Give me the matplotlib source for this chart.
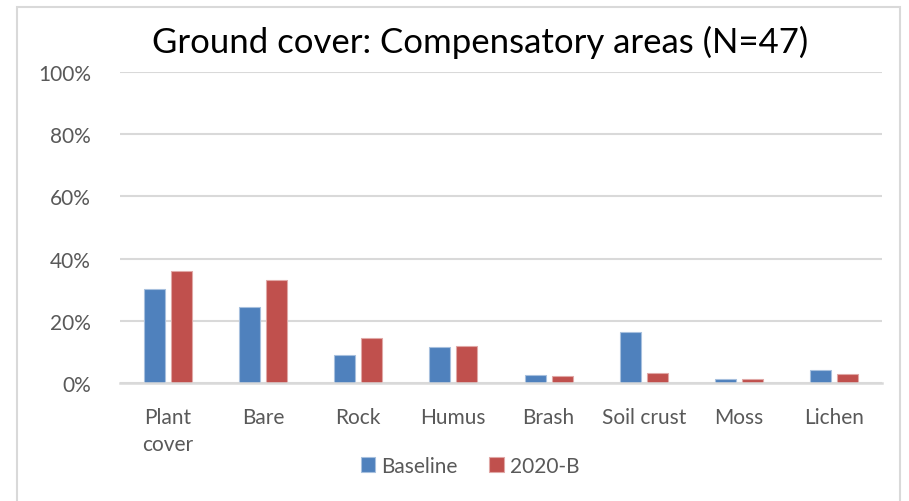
import matplotlib
matplotlib.use("Agg")
import matplotlib.pyplot as plt
import numpy as np
from matplotlib.patches import Rectangle

categories = ["Plant\ncover", "Bare", "Rock", "Humus", "Brash", "Soil crust", "Moss", "Lichen"]
baseline = [30.2, 24.5, 9.0, 11.5, 2.7, 16.5, 1.4, 4.1]
b2020 = [36.1, 33.2, 14.5, 11.9, 2.4, 3.1, 1.3, 2.9]
yticks = [0, 20, 40, 60, 80, 100]
ytick_labels = ["0%", "20%", "40%", "60%", "80%", "100%"]

W, H = 909, 502
fig = plt.figure(figsize=(W/100, H/100), dpi=100)
plt.rcParams['font.family'] = ['Lato', 'DejaVu Sans']

# chart border
fig.patches.append(Rectangle((17/W, -0.05), (900-17)/W, 1.05 - 8/H, transform=fig.transFigure,
                             fill=False, edgecolor="#d9d9d9", linewidth=1.5))

ax = fig.add_axes([120/W, 1-384/H, (882-120)/W, (384-73)/H])
x = np.arange(len(categories))
w = 0.22
off = 0.142
ax.bar(x - off, baseline, w, color="#4F81BD", edgecolor="#A7C0DE", linewidth=0.8, zorder=3, label="Baseline")
ax.bar(x + off, b2020, w, color="#C0504D", edgecolor="#E0A8A6", linewidth=0.8, zorder=3, label="2020-B")

ax.set_xlim(-0.5, len(categories) - 0.5)
ax.set_ylim(0, 100)
ax.set_yticks(yticks)
ax.set_yticklabels(ytick_labels)
ax.set_xticks(x)
ax.set_xticklabels(categories, linespacing=1.45)
ax.tick_params(axis='both', length=0, labelsize=15, colors="#595959")
ax.tick_params(axis='y', pad=21)
ax.tick_params(axis='x', pad=17)
ax.grid(axis='y', color="#d9d9d9", linewidth=1.5, zorder=0)
for s in ['top', 'right', 'left']:
    ax.spines[s].set_visible(False)
ax.spines['bottom'].set_color("#d9d9d9")
ax.spines['bottom'].set_linewidth(1.8)
ax.spines['bottom'].set_zorder(4)

fig.text(480/W, 1-42/H, "Ground cover: Compensatory areas (N=47)", ha='center', va='center',
         fontsize=25, color="black")

leg = fig.legend(loc='center', bbox_to_anchor=(470/W, 1-467/H), ncol=2, frameon=False,
                 fontsize=15, handlelength=0.7, handleheight=0.7, handletextpad=0.3, columnspacing=1.5)
for t in leg.get_texts():
    t.set_color("#595959")

fig.savefig("out.png", dpi=100)
